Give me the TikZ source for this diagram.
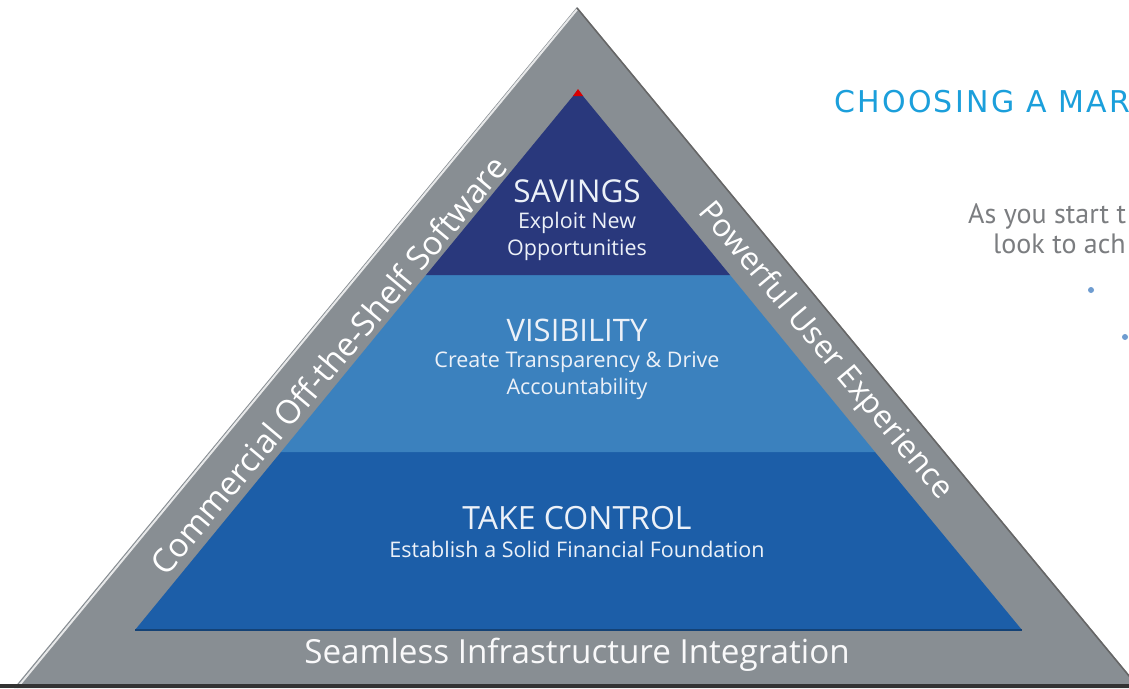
\documentclass[tikz,border=0pt]{standalone}
\usepackage{fontspec}
\usetikzlibrary{calc}
\setmainfont{Open Sans}
\newfontfamily\sidefont{PT Sans}
\newfontfamily\headfont[LetterSpace=7.5]{DejaVu Sans}
\definecolor{framegray}{HTML}{888E93}
\definecolor{savingsblue}{HTML}{29387C}
\definecolor{visiblue}{HTML}{3B81BE}
\definecolor{controlblue}{HTML}{1C5EA8}
\definecolor{pyrtext}{HTML}{ECF1F8}
\definecolor{headcyan}{HTML}{1B9FDB}
\definecolor{bodygray}{HTML}{7B7D80}
\definecolor{bulletblue}{HTML}{6E9CD0}
\begin{document}
\begin{tikzpicture}[x=1pt,y=-1pt,
  layertext/.style={text=pyrtext,align=center,inner sep=0pt},
  sub/.style={font=\fontsize{21.5}{27}\selectfont},
  edgetext/.style={text=white,inner sep=0pt},
  righttext/.style={anchor=base west,inner sep=0pt}]
\useasboundingbox (0,0) rectangle (1129,688);
\clip (0,0) rectangle (1129,688);
\fill[white] (0,0) rectangle (1129,688);

% outer frame triangle
\coordinate (apex) at (577,7);
\coordinate (bl) at (14,688);
\coordinate (br) at (1140,688);
\fill[framegray] (apex) -- (br) -- (bl) -- cycle;
\draw[white!80!framegray,line width=2pt] ($(bl)+(3,0)$) -- ($(apex)+(0,2.5)$);
\draw[black!60,line width=1.5pt] ($(apex)+(0,1)$) -- ($(br)+(-1,0)$);
\fill[black!80] (0,684) rectangle (1129,688);

% inner pyramid layers
\fill[controlblue] (281,452) -- (875,452) -- (1022,630) -- (135,630) -- cycle;
\fill[visiblue] (426,275) -- (730,275) -- (875,452) -- (281,452) -- cycle;
\fill[savingsblue] (578,90) -- (730,275) -- (426,275) -- cycle;
\draw[controlblue!70!black,line width=1.5pt] (135,630) -- (1022,630);
\fill[red!85!black] (578,89) -- (583,96) -- (573,96) -- cycle;

% layer texts
\node[layertext] (savT) at (577,191) {\fontsize{31.5}{31.5}\selectfont SAVINGS};
\node[layertext,sub] (savS) at (577,236) {Exploit New\\Opportunities};
\node[layertext] (visT) at (577,330) {\fontsize{31}{31}\selectfont VISIBILITY};
\node[layertext,sub] (visS) at (577,376) {Create Transparency \& Drive\\Accountability};
\node[layertext] (tcT) at (577,518) {\fontsize{32}{32}\selectfont TAKE CONTROL};
\node[layertext,sub] (tcS) at (577,549) {Establish a Solid Financial Foundation};

% frame labels
\node[edgetext,rotate=50,font=\fontsize{33}{33}\selectfont] (cots) at (328,365) {Commercial Off-the-Shelf Software};
\node[edgetext,rotate=-50,font=\fontsize{31.5}{31.5}\selectfont] (pue) at (825,351) {Powerful User Experience};
\node[text=white!95!framegray,inner sep=0pt,font=\fontsize{33.2}{33.2}\selectfont] (sii) at (577,655) {Seamless Infrastructure Integration};

% side copy, running off the right edge
\node[righttext,text=headcyan,font=\headfont\fontsize{30}{30}\selectfont] (head) at (834,112) {CHOOSING A MARK};
\node[righttext,text=bodygray,font=\sidefont\fontsize{28}{28}\selectfont] (l1) at (968,223) {As you start t};
\node[righttext,text=bodygray,font=\sidefont\fontsize{28}{28}\selectfont] (l2) at (993,253) {look to ach};
\fill[bulletblue] (1091,290) circle (3);
\fill[bulletblue] (1125,337) circle (3);
\end{tikzpicture}
\end{document}
